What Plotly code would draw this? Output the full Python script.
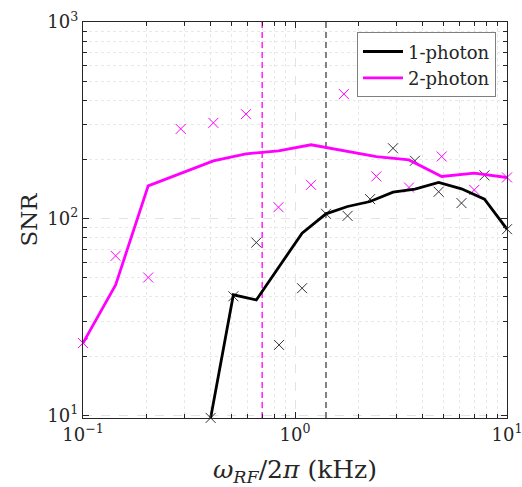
import plotly.graph_objects as go

# RF modulation frequency (kHz) for each measurement
freq_1p = [0.40, 0.512, 0.657, 0.841, 1.08, 1.40, 1.77, 2.26, 2.90, 3.68, 4.76, 6.10, 7.83, 10.0]
freq_2p = [0.10, 0.1425, 0.203, 0.289, 0.412, 0.587, 0.836, 1.19, 1.70, 2.42, 3.45, 4.92, 7.01, 10.0]

# Single-shot SNR measurements
snr_1p = [9.7, 40.3, 75.6, 22.8, 44.3, 105.8, 103.3, 125.7, 228, 197, 137, 120, 166, 88.4]
snr_2p = [23.3, 64.7, 50.2, 286, 307, 340, 114.4, 148.6, 430, 164, 144, 207, 140, 162]

# Smoothed SNR trend
trend_1p = [9.7, 41.0, 38.6, 57.0, 84.4, 105.8, 115.3, 122.2, 136.4, 141.3, 152.7, 141.8, 125.7, 88.4]
trend_2p = [23.3, 46.0, 146.8, 170.5, 196.8, 213.6, 221.0, 237.5, 221.0, 207.0, 199.0, 163.9, 170.4, 161.9]

# Reference frequencies (kHz) marked with dashed lines
ref_freqs = [0.70, 1.40]
ref_colors = ["#ff00ff", "#404040"]

# Tick positions and labels
x_ticks = [0.1, 1, 10]
x_ticktext = ["10<sup>−1</sup>", "10<sup>0</sup>", "10<sup>1</sup>"]
y_ticks = [10, 100, 1000]
y_ticktext = ["10<sup>1</sup>", "10<sup>2</sup>", "10<sup>3</sup>"]
x_minor = [m * d for d in (0.1, 1) for m in range(2, 10)]
y_minor = [m * d for d in (1, 10, 100) for m in range(2, 10)]

y_lo, y_hi = 9.69, 1000.0
MAGENTA = "#ff00ff"
FONT = "DejaVu Serif"
TXT = "#262626"

fig = go.Figure()

for f, c in zip(ref_freqs, ref_colors):
    fig.add_trace(go.Scatter(
        x=[f, f], y=[y_lo, y_hi], mode="lines",
        line=dict(color=c, width=1.3, dash="6px,4px"),
        showlegend=False, hoverinfo="skip"))

fig.add_trace(go.Scatter(
    x=freq_1p, y=snr_1p, mode="markers",
    marker=dict(symbol="x-thin", size=10, line=dict(color="#333333", width=1)),
    showlegend=False, cliponaxis=False))
fig.add_trace(go.Scatter(
    x=freq_2p, y=snr_2p, mode="markers",
    marker=dict(symbol="x-thin", size=10, line=dict(color=MAGENTA, width=1)),
    showlegend=False, cliponaxis=False))

fig.add_trace(go.Scatter(
    x=freq_1p, y=trend_1p, mode="lines", name="1-photon",
    line=dict(color="black", width=2.8)))
fig.add_trace(go.Scatter(
    x=freq_2p, y=trend_2p, mode="lines", name="2-photon",
    line=dict(color=MAGENTA, width=2.8)))

axis_common = dict(
    type="log",
    automargin=False,
    showline=True, linecolor=TXT, linewidth=1.3, mirror="allticks",
    ticks="inside", ticklen=6, tickcolor=TXT, tickwidth=1,
    tickmode="array", ticklabeloverflow="allow",
    showgrid=True, gridcolor="#e3e3e3", griddash="dash", gridwidth=1,
    zeroline=False,
    tickfont=dict(family=FONT, size=18, color=TXT),
)

fig.update_xaxes(
    range=[-1, 1],
    tickvals=x_ticks, ticktext=x_ticktext,
    minor=dict(tickmode="array", tickvals=x_minor, ticks="inside", ticklen=3.5,
               tickcolor=TXT, showgrid=True, gridcolor="#e8e8e8",
               griddash="dot", gridwidth=1),
    title=dict(text="<i>ω</i><sub><i>RF</i></sub>/2<i>π</i> (kHz)",
               font=dict(family=FONT, size=25, color=TXT), standoff=18),
    **axis_common)
fig.update_yaxes(
    range=[0.98632, 3],
    tickvals=y_ticks, ticktext=y_ticktext,
    minor=dict(tickmode="array", tickvals=y_minor, ticks="inside", ticklen=3.5,
               tickcolor=TXT, showgrid=True, gridcolor="#e8e8e8",
               griddash="dot", gridwidth=1),
    title=dict(text="SNR", font=dict(family=FONT, size=23, color=TXT), standoff=3),
    **axis_common)

fig.update_layout(
    width=522, height=487,
    margin=dict(l=83, r=15, t=22, b=69, autoexpand=False),
    font=dict(family=FONT, size=22, color=TXT),
    paper_bgcolor="white", plot_bgcolor="white",
    legend=dict(
        x=0.974, y=0.974, xanchor="right", yanchor="top",
        bgcolor="white", bordercolor="#7f7f7f", borderwidth=1,
        font=dict(family=FONT, size=18, color=TXT),
        tracegroupgap=0, itemwidth=40),
    showlegend=True,
)

fig.write_html("out.html")
